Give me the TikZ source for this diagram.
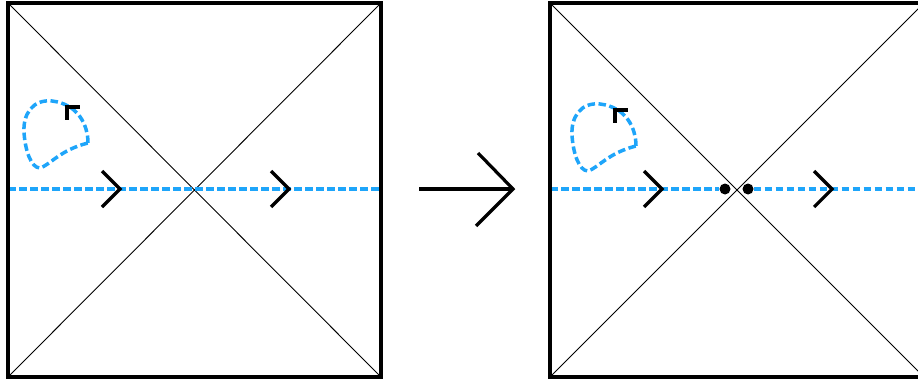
\documentclass[tikz,border=0pt]{standalone}
\definecolor{flowblue}{RGB}{30,165,250}
\tikzset{
  frame/.style={line width=3.2pt},
  diag/.style={line width=0.9pt},
  flow/.style={flowblue, line width=3.5pt, dash pattern=on 7.5pt off 3.5pt},
  chev/.style={line width=3.2pt},
  tick/.style={line width=3.2pt, line cap=rect},
  bigarrow/.style={line width=3.2pt},
  pt/.style={circle, fill=black, inner sep=0pt, minimum size=11pt},
}
\begin{document}
\begin{tikzpicture}[x=1pt,y=-1pt]
\useasboundingbox (0,0) rectangle (918,380);
\clip (0,0) rectangle (918,380);
% left square
\coordinate (L1) at (8,3); \coordinate (L2) at (381,3);
\coordinate (L3) at (381,377); \coordinate (L4) at (8,377);
\draw[diag] (L1) -- (L3) (L2) -- (L4);
\coordinate (LW) at (8,189); \coordinate (LE) at (381,189);
\draw[flow] (LW) -- (LE);
\draw[frame] (L1) rectangle (L3);
\draw[chev] (102,171) -- (120,189) -- (102,207);
\draw[chev] (271,171) -- (289,189) -- (271,207);
% left loop
\draw[flow] (88,143) .. controls (88,125) and (78,104) .. (52,101)
  .. controls (32,99) and (23,115) .. (24,132)
  .. controls (25,150) and (31,168) .. (40,168)
  .. controls (50,165) and (60,150) .. cycle;
\draw[tick] (78,107) -- (67,107) -- (67,118);
% big arrow
\coordinate (AS) at (419,189); \coordinate (AE) at (513,189);
\draw[bigarrow] (AS) -- (AE);
\draw[bigarrow] (478,153) -- (AE) -- (476,226);
% right square
\coordinate (R1) at (550,3); \coordinate (R2) at (924,3);
\coordinate (R3) at (924,377); \coordinate (R4) at (550,377);
\draw[diag] (R1) -- (R3) (R2) -- (R4);
\node[pt] (d1) at (725,189) {};
\node[pt] (d2) at (748,189) {};
\coordinate (RW) at (550,189); \coordinate (RE) at (924,189);
\draw[flow] (RW) -- (d1.west);
\draw[flow] (d2.east) -- (RE);
\draw[frame] (R1) rectangle (R3);
\draw[chev] (644,171) -- (662,189) -- (644,207);
\draw[chev] (814,171) -- (832,189) -- (814,207);
% right loop
\begin{scope}[shift={(548,3)}]
\draw[flow] (88,143) .. controls (88,125) and (78,104) .. (52,101)
  .. controls (32,99) and (23,115) .. (24,132)
  .. controls (25,150) and (31,168) .. (40,168)
  .. controls (50,165) and (60,150) .. cycle;
\draw[tick] (78,107) -- (67,107) -- (67,118);
\end{scope}
\end{tikzpicture}
\end{document}
